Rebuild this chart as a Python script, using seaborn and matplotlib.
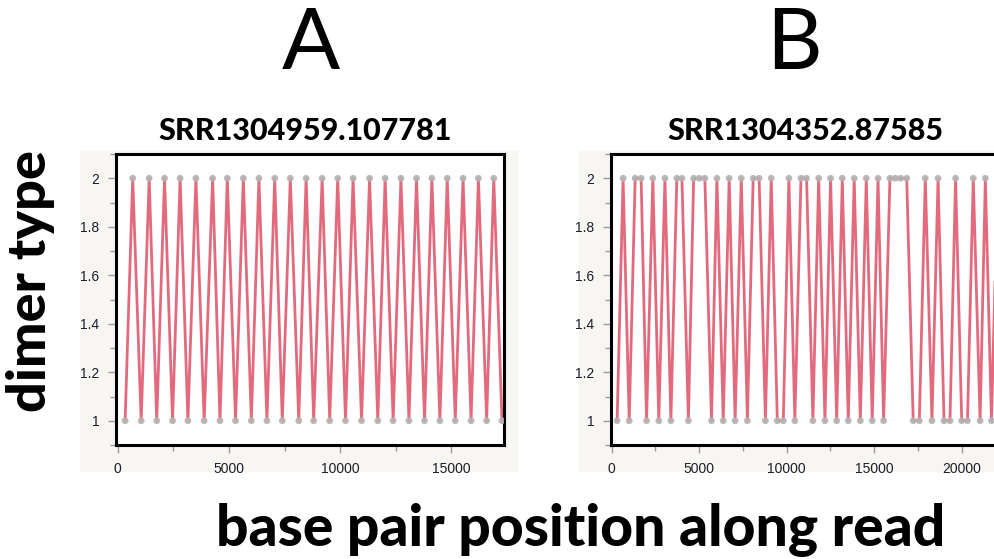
import seaborn as sns
import matplotlib.pyplot as plt
import pandas as pd
from matplotlib.ticker import MultipleLocator, FormatStrFormatter
from matplotlib.patches import Rectangle

# read A: strict alternation between dimer type 1 and 2
pos_a = [340, 680, 1060, 1420, 1760, 2110, 2470, 2810, 3160, 3520,
         3890, 4270, 4600, 4930, 5300, 5650, 6010, 6350, 6710, 7060,
         7400, 7760, 8140, 8470, 8810, 9190, 9530, 9890, 10240, 10580,
         10960, 11320, 11690, 12020, 12380, 12730, 13090, 13430, 13790, 14120,
         14480, 14810, 15170, 15520, 15880, 16210, 16580, 16900, 17270]
dimer_a = [1, 2, 1, 2, 1, 2, 1, 2, 1, 2,
           1, 2, 1, 2, 1, 2, 1, 2, 1, 2,
           1, 2, 1, 2, 1, 2, 1, 2, 1, 2,
           1, 2, 1, 2, 1, 2, 1, 2, 1, 2,
           1, 2, 1, 2, 1, 2, 1, 2, 1]

# read B: mostly alternating, with runs
pos_b = [320, 660, 1010, 1350, 1690, 2000, 2360, 2700, 3050, 3390,
         3730, 4020, 4390, 4690, 5010, 5330, 5710, 6020, 6380, 6720,
         7060, 7410, 7760, 8090, 8430, 8790, 9120, 9470, 9810, 10130,
         10470, 10820, 11140, 11500, 11830, 12190, 12510, 12860, 13180, 13520,
         13860, 14210, 14550, 14890, 15220, 15540, 15900, 16210, 16510, 16860,
         17230, 17580, 17920, 18300, 18650, 18990, 19330, 19650, 20000, 20330,
         20660, 21050, 21350, 21700, 22050]
dimer_b = [1, 2, 1, 2, 2, 1, 2, 1, 2, 1,
           2, 2, 1, 2, 2, 2, 1, 2, 1, 2,
           1, 2, 1, 2, 2, 1, 2, 1, 1, 2,
           1, 2, 2, 1, 2, 1, 2, 1, 2, 1,
           2, 1, 2, 1, 2, 1, 2, 2, 2, 2,
           1, 1, 2, 1, 2, 1, 1, 2, 1, 1,
           2, 1, 2, 1, 2]

titles = ['SRR1304959.107781', 'SRR1304352.87585']
letters = ['A', 'B']

sns.set_style('white')
plt.rcParams['font.family'] = ['Lato', 'DejaVu Sans']
plt.rcParams['text.color'] = 'black'

W, H = 994, 559
fig = plt.figure(figsize=(9.94, 5.59), dpi=100)
fig.patch.set_facecolor('white')


def box(l, t, r, b):
    return [l / W, 1 - b / H, (r - l) / W, (b - t) / H]


panels = [
    dict(pos=pos_a, dimer=dimer_a, axbox=(116, 154, 504, 445), bg=(80, 151, 517, 471),
         xlim=(-70, 17360), cx=305, lx=311),
    dict(pos=pos_b, dimer=dimer_b, axbox=(611, 154, 999, 445), bg=(579, 151, 1000, 471),
         xlim=(-30, 22130), cx=805, lx=794),
]

for i, p in enumerate(panels):
    l, t, r, b = p['bg']
    fig.patches.append(Rectangle((l / W, 1 - b / H), (r - l) / W, (b - t) / H,
                                 transform=fig.transFigure, color='#f7f6f2', zorder=-5))

    df = pd.DataFrame({'pos': p['pos'], 'dimer': p['dimer']})
    ax = fig.add_axes(box(*p['axbox']))
    ax.set_zorder(2)
    ax.set_facecolor('white')
    sns.lineplot(df, x='pos', y='dimer', ax=ax, color='#e05a6e', lw=2, alpha=0.9,
                 estimator=None, sort=False)
    sns.scatterplot(df, x='pos', y='dimer', ax=ax, color='#b3b3b3', s=24,
                    edgecolor='none', zorder=3, alpha=0.9)
    ax.set_xlim(*p['xlim'])
    ax.set_ylim(0.9, 2.1)
    ax.xaxis.set_major_locator(MultipleLocator(5000))
    ax.xaxis.set_minor_locator(MultipleLocator(2500))
    ax.yaxis.set_major_locator(MultipleLocator(0.2))
    ax.yaxis.set_minor_locator(MultipleLocator(0.1))
    ax.yaxis.set_major_formatter(FormatStrFormatter('%g'))
    ax.tick_params(which='both', direction='out', color='#9a9a9a', width=1,
                   bottom=True, left=True, labelsize=10, labelcolor='#1e1e2a')
    ax.tick_params(which='major', length=6, pad=6)
    ax.tick_params(which='minor', length=4)
    for lab in ax.get_xticklabels() + ax.get_yticklabels():
        lab.set_fontfamily(['Liberation Sans', 'DejaVu Sans'])
    for s in ax.spines.values():
        s.set_visible(True)
        s.set_color('black')
        s.set_linewidth(2.2)
    ax.set_xlabel('')
    ax.set_ylabel('')

    fig.text(p['cx'] / W, 1 - 131 / H, titles[i], ha='center', va='center',
             fontsize=22, fontweight='black')
    fig.text(p['lx'] / W, 1 - 45 / H, letters[i], ha='center', va='center',
             fontsize=62, fontweight='normal')

fig.text(31 / W, 1 - 281 / H, 'dimer type', rotation=90, ha='center', va='center',
         fontsize=39, fontweight='black')
fig.text(581 / W, 1 - 530 / H, 'base pair position along read', ha='center', va='center',
         fontsize=41, fontweight='black')

fig.savefig('out.png', dpi=100)
